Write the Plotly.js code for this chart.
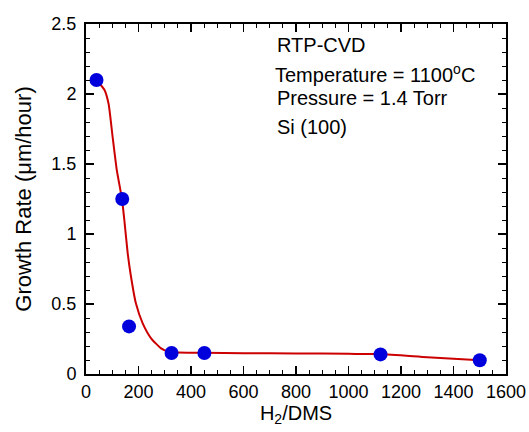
<!DOCTYPE html>
<html><head><meta charset="utf-8">
<script src="https://cdn.plot.ly/plotly-3.0.1.min.js"></script>
<style>html,body{margin:0;padding:0;background:#fff}#chart{width:529px;height:432px}</style>
</head><body><div id="chart"></div>
<script>
const ratio = [40, 138, 164, 326, 451, 1122, 1500];
const growthRate = [2.1, 1.25, 0.34, 0.15, 0.15, 0.14, 0.098];
const fitRatio = [40, 70, 86, 101, 117, 137, 146, 159, 171, 190, 216, 248, 286, 317, 350, 450, 600, 800, 1000, 1122, 1300, 1500];
const fitRate = [2.1, 2.03, 1.93, 1.7, 1.46, 1.25, 1.1, 0.86, 0.7, 0.505, 0.362, 0.255, 0.183, 0.158, 0.153, 0.151, 0.149, 0.147, 0.144, 0.142, 0.12, 0.098];
const notes = ["RTP-CVD", "Temperature = 1100<sup>o</sup>C", "Pressure = 1.4 Torr", "Si (100)"];

const tickFont = {family: "Liberation Sans, Arial, sans-serif", size: 18, color: "#000"};
const xTitleFont = {family: "Liberation Sans, Arial, sans-serif", size: 20, color: "#000"};
const yTitleFont = {family: "Liberation Sans, Arial, sans-serif", size: 22, color: "#000"};
const noteFont = {family: "Liberation Sans, Arial, sans-serif", size: 20, color: "#000"};
const traces = [
  {x: fitRatio, y: fitRate, mode: "lines", line: {color: "#cc0000", width: 2, shape: "spline", smoothing: 0.5}, hoverinfo: "skip"},
  {x: ratio, y: growthRate, mode: "markers", marker: {color: "#0000dd", size: 14}}
];
const axisCommon = {showline: true, linecolor: "#000", linewidth: 2, mirror: "ticks", ticks: "inside", ticklen: 8, tickwidth: 1.5, tickcolor: "#000", showgrid: false, zeroline: false, tickfont: tickFont};
const layout = {
  width: 529, height: 432, showlegend: false,
  margin: {l: 86, r: 23, t: 24, b: 58},
  paper_bgcolor: "#fff", plot_bgcolor: "#fff", font: tickFont,
  xaxis: Object.assign({}, axisCommon, {range: [0, 1600], dtick: 200, tick0: 0,
    minor: {dtick: 50, ticks: "inside", ticklen: 4, tickcolor: "#000", tickwidth: 1},
    title: {text: "H<sub>2</sub>/DMS", font: xTitleFont, standoff: 4}}),
  yaxis: Object.assign({}, axisCommon, {range: [0, 2.5], dtick: 0.5, tick0: 0, ticklabelstandoff: 4,
    minor: {dtick: 0.1, ticks: "inside", ticklen: 4, tickcolor: "#000", tickwidth: 1},
    title: {text: "Growth Rate (\u03bcm/hour)", font: yTitleFont, standoff: 14}}),
  annotations: [
    {text: notes[0], x: 0.45, y: 0.94},
    {text: notes[1], x: 0.446, y: 0.86},
    {text: notes[2], x: 0.45, y: 0.789},
    {text: notes[3], x: 0.45, y: 0.706}
  ].map(a => Object.assign(a, {xref: "paper", yref: "paper", xanchor: "left", yanchor: "middle", showarrow: false, font: noteFont}))
};
Plotly.newPlot("chart", traces, layout, {displayModeBar: false, staticPlot: true});
</script></body></html>
